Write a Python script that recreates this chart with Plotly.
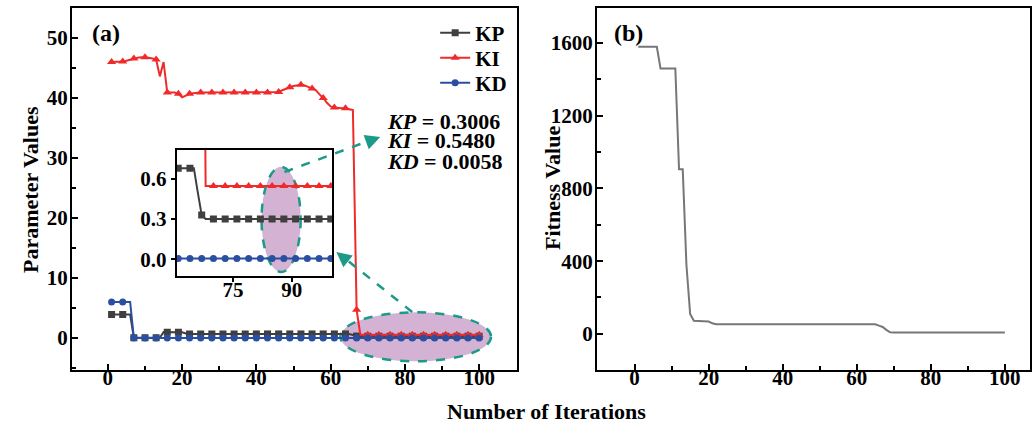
import plotly.graph_objects as go

W, H = 1032, 430

iterations = list(range(1, 101))

kp = ([3.9] * 6 + [0.05] * 8 + [1.0] + [0.95] * 5 + [0.75] + [0.68] * 44
      + [0.5, 0.33] + [0.3006] * 33)

ki = ([46.0, 46.0, 46.0, 46.1, 46.2, 46.4, 46.6, 46.7, 46.8, 46.8, 46.7, 46.6,
       46.4, 43.6, 46.0, 40.9, 40.9, 40.9, 40.7, 40.1, 40.4, 40.7, 40.8]
      + [40.9] * 22
      + [41.0, 41.3, 41.6, 41.8, 42.0, 42.1, 42.2, 42.1, 41.8, 41.6, 41.3,
         40.6, 40.0, 39.2, 38.6, 38.4, 38.3, 38.3, 38.3, 38.2, 38.0]
      + [4.7] + [0.548] * 33)

kd = [6.0] * 6 + [0.0058] * 94

fitness = ([1580] * 6 + [1460] * 5 + [905, 905, 380, 110] + [72] * 4 + [68, 58]
           + [53] * 44 + [45, 38, 22, 8] + [7] * 31)

series_names = ["KP", "KI", "KD"]
series_colors = ["#3f3f3f", "#f02a2a", "#2b4fa0"]
series_symbols = ["square", "triangle-up", "circle"]
series_sizes = [7, 8, 7]
final_text = ["<b><i>KP</i> = 0.3006</b>", "<b><i>KI</i> = 0.5480</b>",
              "<b><i>KD</i> = 0.0058</b>"]

FONT = "Liberation Serif"
TEAL = "#1b9a88"
ELL_FILL = "rgba(205,165,205,0.85)"


def px(x):
    return x / W


def py(y):
    return 1 - y / H


fig = go.Figure()

mark_idx = list(range(0, 100, 3))
data = [kp, ki, kd]

for ax_suffix in ["", "3"]:
    for name, vals, col, sym, sz in zip(series_names, data, series_colors,
                                        series_symbols, series_sizes):
        fig.add_trace(go.Scatter(
            x=iterations, y=vals, mode="lines", line=dict(color=col, width=2),
            showlegend=False, hoverinfo="skip",
            xaxis="x" + ax_suffix, yaxis="y" + ax_suffix))
        fig.add_trace(go.Scatter(
            x=[iterations[i] for i in mark_idx], y=[vals[i] for i in mark_idx],
            mode="markers", marker=dict(color=col, symbol=sym, size=sz),
            showlegend=False, xaxis="x" + ax_suffix, yaxis="y" + ax_suffix))

# legend entries (one legend per entry for exact spacing)
legend_ids = ["legend", "legend2", "legend3"]
for name, col, sym, sz, lid in zip(series_names, series_colors, series_symbols,
                                   series_sizes, legend_ids):
    fig.add_trace(go.Scatter(
        x=[None], y=[None], mode="lines+markers", name=name, legend=lid,
        line=dict(color=col, width=2), marker=dict(color=col, symbol=sym, size=sz),
        xaxis="x", yaxis="y"))

fig.add_trace(go.Scatter(x=iterations, y=fitness, mode="lines",
                         line=dict(color="#777777", width=2), showlegend=False,
                         xaxis="x2", yaxis="y2"))

axis_common = dict(showline=True, linecolor="black", linewidth=2, mirror=True,
                   ticks="inside", ticklen=6, tickwidth=2, tickcolor="black",
                   showgrid=False, zeroline=False,
                   tickfont=dict(family=FONT, size=21, color="black", weight=700))

xcommon = dict(axis_common, ticklabelstandoff=-12)
ycommon = dict(axis_common, ticklabelstandoff=-2)

leg_font = dict(family=FONT, size=21, color="black", weight=700)
legends = {}
for i, lid in enumerate(legend_ids):
    legends[lid] = dict(x=px(436), y=py(33 + 25 * i), xanchor="left", yanchor="middle",
                        bgcolor="rgba(0,0,0,0)", font=leg_font)

fig.update_layout(
    width=W, height=H, margin=dict(l=0, r=0, t=0, b=0),
    paper_bgcolor="white", plot_bgcolor="white",
    xaxis=dict(domain=[px(72), px(518)], anchor="y", range=[-9.7, 110.2],
               tickvals=[0, 20, 40, 60, 80, 100],
               minor=dict(ticks="inside", dtick=10, ticklen=4, tickwidth=2, tickcolor="black"),
               **xcommon),
    yaxis=dict(domain=[py(370), py(8)], anchor="x", range=[-5.33, 55],
               tickvals=[0, 10, 20, 30, 40, 50],
               minor=dict(ticks="inside", dtick=5, ticklen=4, tickwidth=2, tickcolor="black"),
               **ycommon),
    xaxis2=dict(domain=[px(598), 1.0], anchor="y2", range=[-10.2, 106.8],
                tickvals=[0, 20, 40, 60, 80, 100],
                minor=dict(ticks="inside", dtick=10, ticklen=4, tickwidth=2, tickcolor="black"),
                **xcommon),
    yaxis2=dict(domain=[py(370), py(8)], anchor="x2", range=[-199, 1793],
                tickvals=[0, 400, 800, 1200, 1600],
                minor=dict(ticks="inside", dtick=200, ticklen=4, tickwidth=2, tickcolor="black"),
                **ycommon),
    xaxis3=dict(domain=[px(177), px(333)], anchor="y3", range=[60.6, 100.4],
                tickvals=[75, 90],
                **{**axis_common, "ticks": "outside", "ticklen": 4, "ticklabelstandoff": -10}),
    yaxis3=dict(domain=[py(276), py(150)], anchor="x3", range=[-0.125, 0.816],
                tickvals=[0.0, 0.3, 0.6], tickformat=".1f",
                **{**axis_common, "ticks": "outside", "ticklen": 4}),
    showlegend=True,
    **legends,
)

shapes = [
    dict(type="circle", xref="x", yref="y", x0=62.6, x1=103.2, y0=-3.87, y1=4.28,
         fillcolor=ELL_FILL, line=dict(color=TEAL, width=2.5, dash="dash"), layer="below"),
    dict(type="circle", xref="x3", yref="y3", x0=82.3, x1=92.3, y0=-0.095, y1=0.69,
         fillcolor=ELL_FILL, line=dict(color=TEAL, width=2.5, dash="dash"), layer="below"),
    dict(type="line", xref="paper", yref="paper", x0=px(285), y0=py(172),
         x1=px(372), y1=py(140), line=dict(color=TEAL, width=2.5, dash="dash")),
    dict(type="line", xref="paper", yref="paper", x0=px(413), y0=py(312),
         x1=px(345), y1=py(258), line=dict(color=TEAL, width=2.5, dash="dash")),
]
fig.update_layout(shapes=shapes)


def ann(x, y, text, size, **kw):
    d = dict(xref="paper", yref="paper", x=px(x), y=py(y), text=text, showarrow=False,
             xanchor="center", yanchor="middle",
             font=dict(family=FONT, size=size, color="black"))
    d.update(kw)
    return d


annotations = [
    dict(xref="paper", yref="paper", x=px(381), y=py(137), ax=-12, ay=4.4,
         text="", showarrow=True, arrowhead=2, arrowsize=1.2, arrowwidth=2.5,
         arrowcolor=TEAL),
    dict(xref="paper", yref="paper", x=px(337), y=py(252), ax=9, ay=7.2,
         text="", showarrow=True, arrowhead=2, arrowsize=1.2, arrowwidth=2.5,
         arrowcolor=TEAL),
    ann(106, 33, "<b>(a)</b>", 24),
    ann(630, 33, "<b>(b)</b>", 24),
    ann(30, 189, "<b>Parameter Values</b>", 22, textangle=-90),
    ann(553, 188, "<b>Fitness Value</b>", 22, textangle=-90),
    ann(548, 411, "<b>Number of Iterations</b>", 22),
]
for i, t in enumerate(final_text):
    annotations.append(ann(386, 121 + 20 * i, t, 22, xanchor="left"))
fig.update_layout(annotations=annotations)

fig.write_html("out.html")
